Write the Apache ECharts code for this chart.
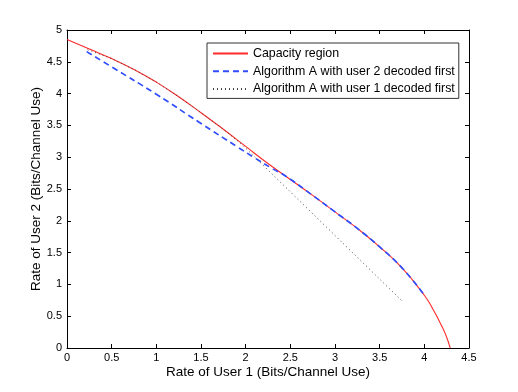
<!DOCTYPE html>
<html>
<head>
<meta charset="utf-8">
<script src="https://cdn.jsdelivr.net/npm/echarts@6/dist/echarts.min.js"></script>
<style>
  html, body { margin: 0; padding: 0; background: #fff; }
  #chart { width: 518px; height: 392px; }
</style>
</head>
<body>
<div id="chart"></div>
<script>
// capacity region boundary
const capacityX = [0, 0.25, 0.5, 0.75, 1.0, 1.25, 1.5, 1.75, 2.0, 2.25, 2.5, 2.75, 3.0, 3.25, 3.5, 3.75, 4.0, 4.1, 4.2, 4.25, 4.29]
const capacityY = [4.85, 4.70, 4.55, 4.38, 4.18, 3.95, 3.70, 3.44, 3.17, 2.90, 2.65, 2.40, 2.14, 1.88, 1.59, 1.26, 0.83, 0.60, 0.33, 0.17, 0]

// algorithm A, user 2 decoded first
const algo2X = [0.22, 0.5, 1.0, 1.5, 1.91, 2.1, 2.3, 2.45, 2.75, 3.0, 3.25, 3.5, 3.75, 4.0]
const algo2Y = [4.66, 4.42, 3.99, 3.53, 3.16, 2.99, 2.82, 2.70, 2.40, 2.14, 1.88, 1.59, 1.26, 0.83]

// algorithm A, user 1 decoded first
const algo1X = [0.23, 0.5, 0.75, 1.0, 1.25, 1.5, 1.75, 1.95, 3.75]
const algo1Y = [4.69, 4.55, 4.38, 4.18, 3.95, 3.70, 3.44, 3.21, 0.74]

const zip = (xs, ys) => xs.map((x, i) => [x, ys[i]])

const font = 'Liberation Sans, Arial, Helvetica, sans-serif'

const chart = echarts.init(document.getElementById('chart'), null, { renderer: 'canvas' })

const boxAxis = {
  axisLine: { show: true, onZero: false, lineStyle: { color: '#000', width: 1 } },
  axisTick: { show: true, inside: true, length: 4, lineStyle: { color: '#000' } },
  splitLine: { show: false }
}

chart.setOption({
  animation: false,
  backgroundColor: '#fff',
  grid: { left: 67, right: 49, top: 30, bottom: 44 },
  legend: {
    orient: 'vertical',
    left: 207,
    top: 43,
    backgroundColor: '#fff',
    borderColor: '#333',
    borderWidth: 1,
    borderRadius: 0,
    padding: [4, 4, 3, 5],
    itemWidth: 35,
    itemHeight: 10,
    itemGap: 4.7,
    itemStyle: { opacity: 0 },
    textStyle: { fontFamily: font, fontSize: 12.4, color: '#000', lineHeight: 13 },
    data: ['Capacity region', 'Algorithm A with user 2 decoded first', 'Algorithm A with user 1 decoded first']
  },
  xAxis: [{
    type: 'value',
    min: 0,
    max: 4.5,
    interval: 0.5,
    position: 'bottom',
    name: 'Rate of User 1 (Bits/Channel Use)',
    nameLocation: 'middle',
    nameGap: 17,
    nameMoveOverlap: false,
    nameTextStyle: { fontFamily: font, fontSize: 13.5, color: '#000' },
    axisLabel: { fontFamily: font, fontSize: 11, color: '#000', margin: 4 },
    ...boxAxis
  }, {
    type: 'value',
    min: 0,
    max: 4.5,
    interval: 0.5,
    position: 'top',
    axisLabel: { show: false },
    ...boxAxis
  }],
  yAxis: [{
    type: 'value',
    min: 0,
    max: 5,
    interval: 0.5,
    position: 'left',
    name: 'Rate of User 2 (Bits/Channel Use)',
    nameLocation: 'middle',
    nameGap: 24,
    nameMoveOverlap: false,
    nameTextStyle: { fontFamily: font, fontSize: 13.5, color: '#000' },
    axisLabel: { fontFamily: font, fontSize: 11, color: '#000', margin: 5 },
    ...boxAxis
  }, {
    type: 'value',
    min: 0,
    max: 5,
    interval: 0.5,
    position: 'right',
    axisLabel: { show: false },
    ...boxAxis
  }],
  series: [{
    name: 'Capacity region',
    type: 'line',
    smooth: true,
    symbol: 'none',
    data: zip(capacityX, capacityY),
    lineStyle: { color: '#ff2a2a', width: 1.1, type: 'solid' },
    itemStyle: { color: '#ff2a2a' },
    z: 2
  }, {
    name: 'Algorithm A with user 2 decoded first',
    type: 'line',
    smooth: true,
    symbol: 'none',
    data: zip(algo2X, algo2Y),
    lineStyle: { color: '#2f4dff', width: 1.7, type: [6, 4] },
    itemStyle: { color: '#2f4dff' },
    z: 3
  }, {
    name: 'Algorithm A with user 1 decoded first',
    type: 'line',
    smooth: false,
    symbol: 'none',
    data: zip(algo1X, algo1Y),
    lineStyle: { color: '#444', width: 1, type: [1, 3] },
    itemStyle: { color: '#444' },
    z: 4
  }]
})
</script>
</body>
</html>
